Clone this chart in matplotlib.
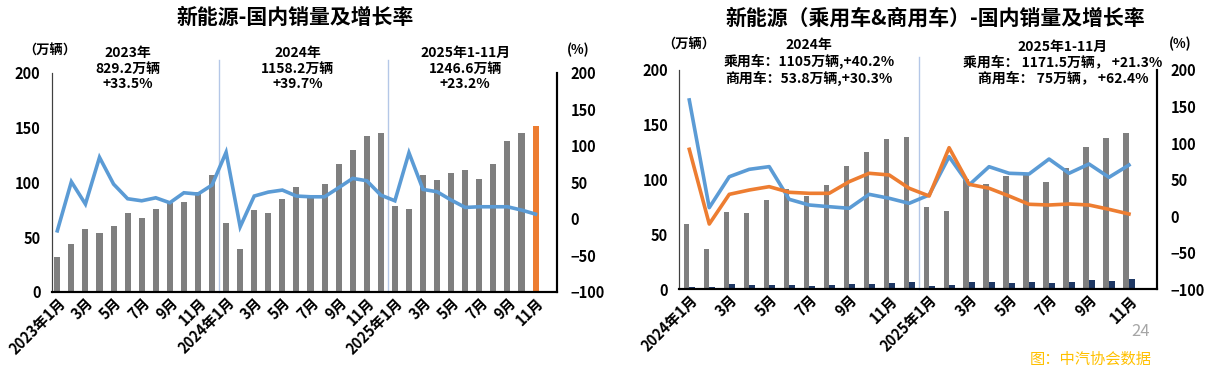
import matplotlib
matplotlib.use("Agg")
import matplotlib.pyplot as plt
import numpy as np

plt.rcParams["font.family"] = ["Noto Sans CJK SC", "DejaVu Sans"]
plt.rcParams["font.weight"] = "bold"

# left chart: NEV domestic sales (10k units) and YoY growth (%), 2023-01 .. 2025-11
nev_sales = [31.9, 43.5, 56.9, 53.3, 60.0, 72.2, 67.0, 75.2, 80.7, 82.2, 91.4, 106.6,
             62.4, 38.6, 74.6, 72.3, 84.4, 95.6, 86.8, 98.1, 116.4, 129.5, 142.0, 145.0,
             78.6, 75.2, 106.6, 101.8, 108.5, 111.2, 103.0, 116.4, 137.8, 144.8, 151.5]
nev_growth = [-16.5, 50.8, 20.2, 84.3, 47.6, 27.5, 24.7, 28.8, 22.0, 35.7, 33.9, 46.3,
              91.2, -11.0, 31.2, 36.6, 39.4, 31.2, 30.2, 30.2, 42.6, 55.4, 52.2, 32.5,
              24.7, 90.6, 40.3, 37.1, 25.7, 15.6, 16.5, 16.5, 16.5, 12.0, 6.4]
left_ticks = ["2023年1月", "3月", "5月", "7月", "9月", "11月",
              "2024年1月", "3月", "5月", "7月", "9月", "11月",
              "2025年1月", "3月", "5月", "7月", "9月", "11月"]
left_notes = ["2023年\n829.2万辆\n+33.5%", "2024年\n1158.2万辆\n+39.7%",
              "2025年1-11月\n1246.6万辆\n+23.2%"]

# right chart: passenger / commercial NEV domestic sales and growth, 2024-01 .. 2025-11
pv_sales = [59.6, 36.8, 70.5, 69.3, 81.2, 91.8, 85.1, 94.8, 112.7, 124.9, 137.1, 139.2,
            75.3, 71.4, 100.6, 95.7, 103.3, 105.2, 97.6, 110.6, 130.0, 137.7, 142.3]
cv_sales = [2.4, 1.8, 4.6, 3.6, 3.6, 4.0, 3.3, 3.6, 4.6, 4.9, 5.5, 7.0,
            3.3, 3.6, 7.0, 7.0, 6.1, 7.0, 6.1, 6.7, 8.2, 7.9, 9.5]
pv_growth = [91.5, -10.7, 29.9, 35.8, 40.4, 32.7, 31.3, 31.3, 47.2, 58.7, 56.4, 38.2,
             27.6, 93.7, 43.6, 38.2, 27.6, 16.3, 15.3, 16.7, 15.3, 9.4, 3.0]
cv_growth = [159.0, 11.7, 54.0, 64.1, 67.8, 23.1, 15.3, 13.0, 10.8, 29.9, 24.5, 17.6,
             29.0, 81.4, 42.7, 67.7, 58.7, 57.7, 78.2, 58.7, 71.4, 53.2, 70.0]
right_ticks = ["2024年1月", "3月", "5月", "7月", "9月", "11月",
               "2025年1月", "3月", "5月", "7月", "9月", "11月"]
right_notes = ["2024年\n乘用车：1105万辆,+40.2%\n商用车：53.8万辆,+30.3%",
               "2025年1-11月\n乘用车： 1171.5万辆， +21.3%\n商用车： 75万辆， +62.4%"]

GRAY = "#7f7f7f"
BLUE = "#5b9bd5"
ORANGE = "#ed7d31"
NAVY = "#1f3864"
SEP = "#b4c7e7"


def style_axes(ax, ax2):
    ax.set_ylim(0, 200)
    ax.set_yticks(range(0, 201, 50))
    ax2.set_ylim(-100, 200)
    ax2.set_yticks(range(-100, 201, 50))
    for a in (ax, ax2):
        a.spines["top"].set_visible(False)
        a.spines["bottom"].set_linewidth(1.5)
        a.spines["left"].set_color("#404040")
        a.spines["right"].set_linewidth(1.5)
        a.tick_params(length=0, labelsize=10.5)
    ax.tick_params(axis="y", pad=8)
    ax2.tick_params(axis="y", pad=10)
    ax.tick_params(axis="x", pad=2)
    for lab in ax.get_xticklabels():
        lab.set_rotation(45)
        lab.set_ha("right")
        lab.set_rotation_mode("anchor")
        lab.set_fontweight("bold")


fig = plt.figure(figsize=(12.13, 3.81), dpi=100)

# ---------------- left chart ----------------
ax = fig.add_axes([0.0426, 0.2344, 0.4163, 0.574])
x = np.arange(len(nev_sales))
bar_colors = [GRAY] * (len(nev_sales) - 1) + [ORANGE]
ax.bar(x, nev_sales, width=0.43, color=bar_colors, zorder=2)
ax.set_xlim(-0.4, 35.5)
ax.set_xticks(x[::2])
ax.set_xticklabels(left_ticks)
for sep in (11.5, 23.5):
    ax.axvline(sep, ymin=0, ymax=1.06, color=SEP, lw=1, clip_on=False, zorder=1)

ax2 = ax.twinx()
ax2.plot(x, nev_growth, color=BLUE, lw=2.6, solid_joinstyle="miter")
style_axes(ax, ax2)

for cx, note in zip((5.0, 17.1, 29.0), left_notes):
    ax.text(cx, 1.02, note, transform=ax.get_xaxis_transform(), ha="center", va="center",
            fontsize=10, fontweight="bold", linespacing=1.15)
fig.text(0.041, 0.868, "（万辆）", ha="center", va="center", fontsize=9.5, fontweight="bold")
fig.text(0.477, 0.868, "(%)", ha="center", va="center", fontsize=9.5, fontweight="bold")
fig.text(0.243, 0.953, "新能源-国内销量及增长率", ha="center", va="center",
         fontsize=15, fontweight="bold")

# ---------------- right chart ----------------
bx = fig.add_axes([0.560, 0.2407, 0.3938, 0.5756])
xr = np.arange(len(pv_sales))
bx.bar(xr - 0.14, pv_sales, width=0.28, color=GRAY, zorder=2)
bx.bar(xr + 0.15, cv_sales, width=0.28, color=NAVY, zorder=2)
bx.set_xlim(-0.5, 23.4)
bx.set_xticks(xr[::2])
bx.set_xticklabels(right_ticks)
bx.axvline(11.5, ymin=0, ymax=1.06, color=SEP, lw=1, clip_on=False, zorder=1)

bx2 = bx.twinx()
bx2.plot(xr, cv_growth, color=BLUE, lw=2.6)
bx2.plot(xr, pv_growth, color=ORANGE, lw=2.6)
style_axes(bx, bx2)

for cx, note in zip((6.0, 18.7), right_notes):
    bx.text(cx, 1.035, note, transform=bx.get_xaxis_transform(), ha="center", va="center",
            fontsize=10, fontweight="bold", linespacing=1.15)
fig.text(0.568, 0.882, "（万辆）", ha="center", va="center", fontsize=9.5, fontweight="bold")
fig.text(0.973, 0.884, "(%)", ha="center", va="center", fontsize=9.5, fontweight="bold")
fig.text(0.771, 0.953, "新能源（乘用车&商用车）-国内销量及增长率", ha="center", va="center",
         fontsize=15, fontweight="bold")

fig.text(0.940, 0.130, "24", ha="center", va="center", fontsize=12, color="#a6a6a6",
         fontweight="normal")
fig.text(0.899, 0.058, "图：中汽协会数据", ha="center", va="center", fontsize=11,
         color="#ffc000", fontweight="normal")

fig.savefig("out.png", dpi=100)
